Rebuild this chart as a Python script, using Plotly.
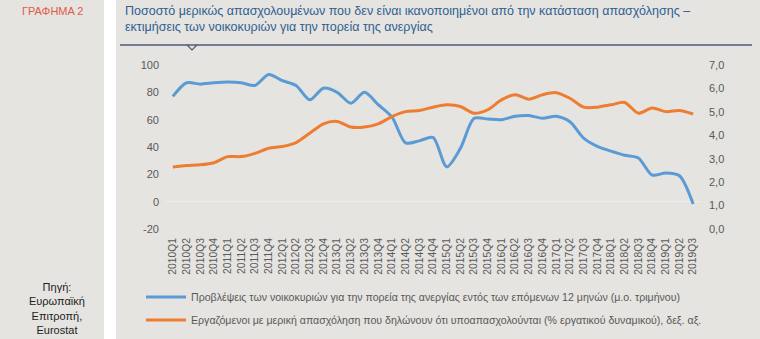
import plotly.graph_objects as go

quarters = [f"{y}Q{q}" for y in range(2010, 2020) for q in range(1, 5)][:39]

household_expectations = [77, 87, 86, 87, 87.5, 87, 85, 93, 88.5, 85, 74.5, 83, 80, 72, 80, 71,
                          62, 43, 44.5, 47, 25.5, 39, 61, 60.5, 60, 62.5, 63, 61, 62.5, 58.5,
                          46.5, 40.5, 37, 34, 32, 19.5, 21, 19, -1.7]
underemployed_part_time = [2.65, 2.71, 2.74, 2.83, 3.09, 3.09, 3.23, 3.45, 3.52, 3.69, 4.09, 4.49,
                           4.59, 4.35, 4.35, 4.49, 4.80, 5.01, 5.06, 5.20, 5.30, 5.23, 4.94, 5.09,
                           5.51, 5.73, 5.54, 5.73, 5.82, 5.58, 5.20, 5.20, 5.30, 5.40, 4.94, 5.16,
                           5.01, 5.06, 4.91]

left_ticks = [-20, 0, 20, 40, 60, 80, 100]
left_tick_labels = ["-20", "0", "20", "40", "60", "80", "100"]
right_ticks = [0, 1, 2, 3, 4, 5, 6, 7]

name_blue = "Προβλέψεις των νοικοκυριών για την πορεία της ανεργίας εντός των επόμενων 12 μηνών (μ.ο. τριμήνου)"
name_orange = "Εργαζόμενοι με μερική απασχόληση που δηλώνουν ότι υποαπασχολούνται (% εργατικού δυναμικού), δεξ. αξ."
title_text = ("Ποσοστό μερικώς απασχολουμένων που δεν είναι ικανοποιημένοι από την κατάσταση απασχόλησης –<br>"
              "εκτιμήσεις των νοικοκυριών για την πορεία της ανεργίας")

W, H = 760, 339
L, R, T, B = 166, 60, 65, 110
PW, PH = W - L - R, H - T - B


def px_x(px):
    return (px - L) / PW


def px_y(py):
    return (H - B - py) / PH


def cx(px):
    return px / W


def cy(py):
    return 1 - py / H


FONT = "Liberation Sans, Arial, sans-serif"
BG = "#e5e4e0"
GREY = "#595959"

fig = go.Figure()
fig.add_trace(go.Scatter(x=quarters, y=household_expectations, mode="lines", name=name_blue,
                         line=dict(color="#5b9bd5", width=3, shape="spline", smoothing=0.8),
                         yaxis="y", legend="legend"))
fig.add_trace(go.Scatter(x=quarters, y=underemployed_part_time, mode="lines", name=name_orange,
                         line=dict(color="#ed7d31", width=3, shape="spline", smoothing=0.8),
                         yaxis="y2", legend="legend2"))

fig.update_layout(
    width=W, height=H,
    margin=dict(l=L, r=R, t=T, b=B, pad=0, autoexpand=False),
    paper_bgcolor=BG, plot_bgcolor=BG,
    separators=",.",
    font=dict(family=FONT, color=GREY, size=11),
    xaxis=dict(type="category", range=[-0.5, 38.5], tickangle=-90, showgrid=False, showline=False,
               ticks="", tickfont=dict(size=10.3, color=GREY), zeroline=False, fixedrange=True,
               ticklabelstandoff=6, automargin=False),
    yaxis=dict(range=[-20, 100], tickvals=left_ticks, ticktext=left_tick_labels, showgrid=False,
               zeroline=True, zerolinecolor="#efeeea", zerolinewidth=1, showline=False, ticks="",
               tickfont=dict(size=11, color=GREY), ticklabelstandoff=6, automargin=False),
    yaxis2=dict(range=[0, 7], tickvals=right_ticks, tickformat=".1f", overlaying="y", side="right",
                showgrid=False, zeroline=False, showline=False, ticks="",
                tickfont=dict(size=11, color=GREY), ticklabelstandoff=8, automargin=False),
    legend=dict(xref="container", yref="container", x=cx(141), y=cy(297), xanchor="left", yanchor="middle",
                bgcolor="rgba(0,0,0,0)", font=dict(size=10.6, color=GREY), itemwidth=40),
    legend2=dict(xref="container", yref="container", x=cx(141), y=cy(320), xanchor="left", yanchor="middle",
                 bgcolor="rgba(0,0,0,0)", font=dict(size=10.6, color=GREY), itemwidth=40),
    showlegend=True,
)

shapes = [
    dict(type="rect", xref="paper", yref="paper", x0=px_x(104), x1=px_x(116), y0=px_y(0), y1=px_y(H),
         fillcolor="white", line=dict(width=0), layer="below"),
    dict(type="line", xref="paper", yref="paper", x0=px_x(120), x1=px_x(752), y0=px_y(45), y1=px_y(45),
         line=dict(color="#4d5b79", width=1.5)),
    dict(type="path", xref="paper", yref="paper",
         path=f"M {px_x(187)},{px_y(45)} L {px_x(192)},{px_y(50)} L {px_x(197)},{px_y(45)}",
         line=dict(color="#4d5b79", width=1.2)),
]
fig.update_layout(shapes=shapes)

annotations = [
    dict(text=title_text, xref="paper", yref="paper", x=px_x(123), y=px_y(2), xanchor="left", yanchor="top",
         showarrow=False, align="left", font=dict(family=FONT, size=12.5, color="#2f6090")),
    dict(text="ΓΡΑΦΗΜΑ 2", xref="paper", yref="paper", x=px_x(20), y=px_y(3), xanchor="left", yanchor="top",
         showarrow=False, font=dict(family=FONT, size=11, color="#e05a47")),
    dict(text="Πηγή:<br>Ευρωπαϊκή<br>Επιτροπή,<br>Eurostat", xref="paper", yref="paper",
         x=px_x(57), y=px_y(279), xanchor="center", yanchor="top", showarrow=False, align="center",
         font=dict(family=FONT, size=11, color="#222222")),
]
fig.update_layout(annotations=annotations)

fig.write_html("out.html")
